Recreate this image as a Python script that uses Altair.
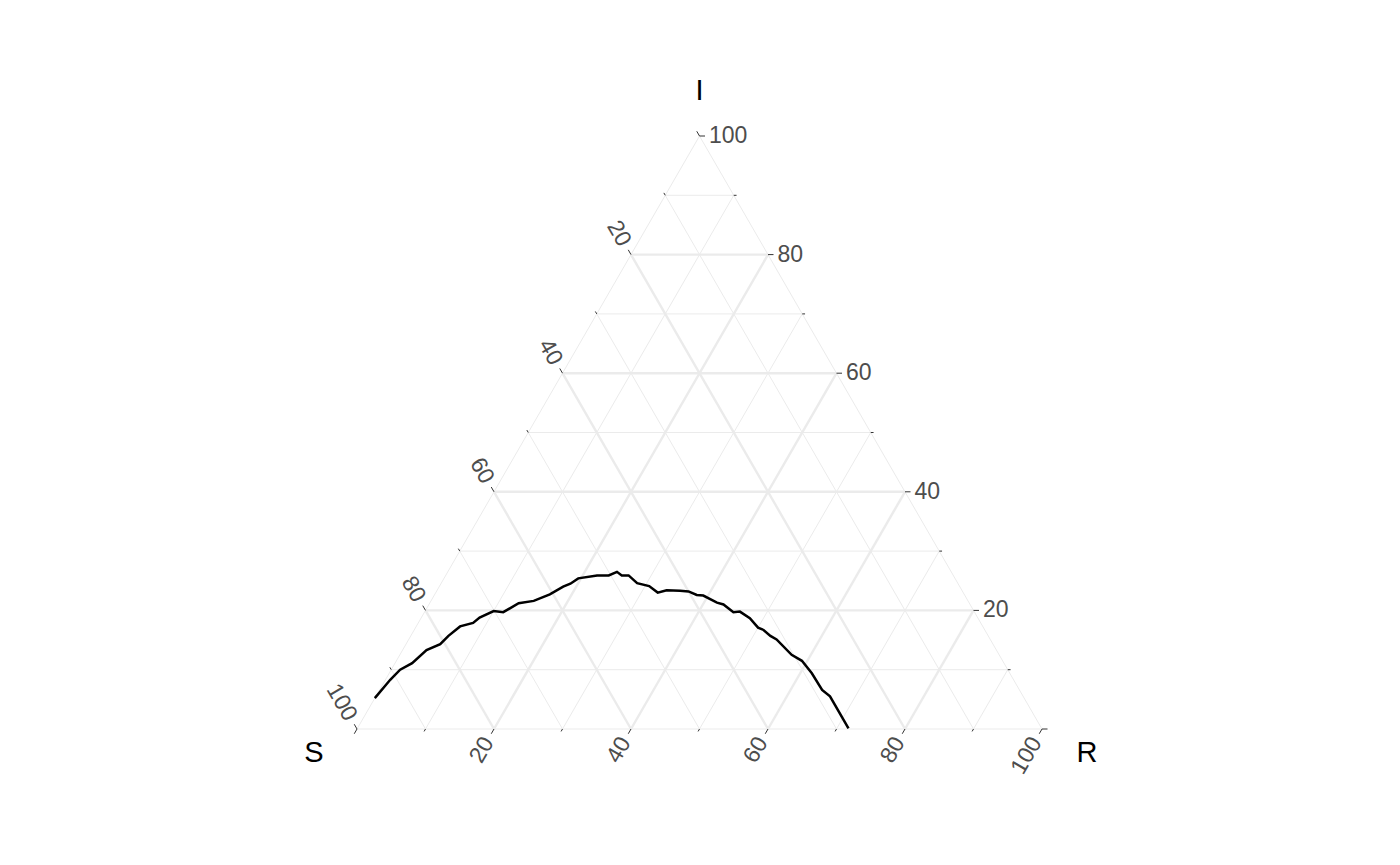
import altair as alt
import numpy as np
import pandas as pd

# ---- data ----
axis_names = ["S", "I", "R"]
grid_values = [0, 10, 20, 30, 40, 50, 60, 70, 80, 90]
major_ticks = [0, 20, 40, 60, 80, 100]
minor_ticks = [10, 30, 50, 70, 90]
label_values = [20, 40, 60, 80, 100]
label_texts = ["20", "40", "60", "80", "100"]

# SIR trajectory (percent of population)
traj_I = [5.2, 8.3, 10.0, 11.1, 13.3, 14.3, 15.7, 17.3, 17.9, 18.8, 19.9, 19.7,
          21.2, 21.6, 22.7, 24.0, 24.5, 25.4, 25.9, 25.9, 26.5, 25.9, 25.9, 24.6,
          24.1, 23.0, 23.4, 23.3, 23.2, 22.6, 22.5, 21.3, 21.0, 19.7, 19.8, 18.7,
          17.1, 16.7, 15.7, 15.1, 12.5, 11.5, 9.4, 6.6, 5.5, 0.1]
traj_R = [0.0, 0.7, 1.3, 2.5, 3.5, 5.0, 5.5, 6.4, 8.0, 8.5, 10.0, 11.5,
          13.0, 15.0, 16.8, 18.1, 18.9, 19.6, 22.1, 23.8, 24.7, 25.7, 26.7, 28.6,
          30.6, 32.4, 33.5, 35.5, 36.8, 38.3, 39.3, 41.9, 43.0, 45.1, 46.0, 48.0,
          50.0, 51.0, 52.5, 53.7, 57.2, 59.2, 61.7, 64.6, 66.3, 71.7]

# ---- geometry helpers ----
H = np.sqrt(3) / 2
W_PX, H_PX = 685, 593
PX = 100 / W_PX  # data units per pixel


def cart(S, I, R):
    return R + I / 2, I * H


# grid lines
grid_rows = []
for v in grid_values:
    kind = "major" if (v % 20 == 0 and v != 0) else "minor"
    segs = [
        ((100 - v, v, 0), (0, v, 100 - v)),      # constant I
        ((100 - v, 0, v), (0, 100 - v, v)),      # constant R
        ((v, 0, 100 - v), (v, 100 - v, 0)),      # constant S
    ]
    for a, b in segs:
        x1, y1 = cart(*a)
        x2, y2 = cart(*b)
        grid_rows.append(dict(x=x1, y=y1, x2=x2, y2=y2, kind=kind))
grid_df = pd.DataFrame(grid_rows)


# axis definitions: start point on edge and outward direction
def start_I(v):
    return cart(0, v, 100 - v)


def start_S(v):
    return cart(v, 100 - v, 0)


def start_R(v):
    return cart(100 - v, 0, v)


dirs = {"I": (1.0, 0.0), "S": (-0.5, H), "R": (-0.5, -H)}
starts = {"I": start_I, "S": start_S, "R": start_R}
MAJ_LEN, MIN_LEN = 5.5 * PX, 2.8 * PX

tick_rows = []
for ax in ["S", "I", "R"]:
    dx, dy = dirs[ax]
    for vals, ln in [(major_ticks, MAJ_LEN), (minor_ticks, MIN_LEN)]:
        for v in vals:
            x0, y0 = starts[ax](v)
            tick_rows.append(dict(x=x0, y=y0, x2=x0 + dx * ln, y2=y0 + dy * ln))
tick_df = pd.DataFrame(tick_rows)

gaps = {"I": 4 * PX, "S": 6 * PX, "R": 6 * PX}
label_dfs = {}
for ax in ["S", "I", "R"]:
    dx, dy = dirs[ax]
    rows = []
    for v, t in zip(label_values, label_texts):
        x0, y0 = starts[ax](v)
        d = MAJ_LEN + gaps[ax]
        rows.append(dict(x=x0 + dx * d, y=y0 + dy * d, label=t))
    label_dfs[ax] = pd.DataFrame(rows)

# axis titles near the vertices
title_pos = {
    "S": (0 - 43 * PX, 0 - 24 * PX),
    "I": (50, 100 * H + 45 * PX),
    "R": (100 + 45 * PX, 0 - 24 * PX),
}
title_df = pd.DataFrame([dict(x=title_pos[n][0], y=title_pos[n][1], name=n) for n in axis_names])

traj_S = [100 - i - r for i, r in zip(traj_I, traj_R)]
traj_df = pd.DataFrame({"S": traj_S, "I": traj_I, "R": traj_R})
traj_df["x"] = traj_df["R"] + traj_df["I"] / 2
traj_df["y"] = traj_df["I"] * H
traj_df["idx"] = range(len(traj_df))

# ---- chart ----
xs = alt.Scale(domain=[0, 100], nice=False, zero=False)
ys = alt.Scale(domain=[0, 100 * H], nice=False, zero=False)
X = lambda f="x": alt.X(f"{f}:Q", scale=xs, axis=None)
Y = lambda f="y": alt.Y(f"{f}:Q", scale=ys, axis=None)

FONT = "Liberation Sans"

grid_minor = alt.Chart(grid_df[grid_df.kind == "minor"]).mark_rule(
    color="#EBEBEB", strokeWidth=1.0
).encode(x=X(), y=Y(), x2="x2:Q", y2="y2:Q")
grid_major = alt.Chart(grid_df[grid_df.kind == "major"]).mark_rule(
    color="#EBEBEB", strokeWidth=2.4
).encode(x=X(), y=Y(), x2="x2:Q", y2="y2:Q")
ticks = alt.Chart(tick_df).mark_rule(color="#333333", strokeWidth=1.0).encode(
    x=X(), y=Y(), x2="x2:Q", y2="y2:Q"
)

lab_I = alt.Chart(label_dfs["I"]).mark_text(
    align="left", baseline="middle", font=FONT, fontSize=23, color="#4D4D4D"
).encode(x=X(), y=Y(), text="label:N")
lab_S = alt.Chart(label_dfs["S"]).mark_text(
    align="right", baseline="middle", angle=60, font=FONT, fontSize=23, color="#4D4D4D"
).encode(x=X(), y=Y(), text="label:N")
lab_R = alt.Chart(label_dfs["R"]).mark_text(
    align="right", baseline="middle", angle=300, font=FONT, fontSize=23, color="#4D4D4D"
).encode(x=X(), y=Y(), text="label:N")

titles = alt.Chart(title_df).mark_text(
    align="center", baseline="middle", font=FONT, fontSize=29, color="#000000"
).encode(x=X(), y=Y(), text="name:N")

line = alt.Chart(traj_df).mark_line(color="#000000", strokeWidth=2.5).encode(
    x=X(), y=Y(), order=alt.Order("idx:Q")
)

chart = alt.layer(
    grid_minor, grid_major, ticks, lab_I, lab_S, lab_R, titles, line
).properties(
    width=W_PX,
    height=H_PX,
    autosize=alt.AutoSizeParams(type="none"),
    padding={"left": 349, "top": 128, "right": 350, "bottom": 128},
).configure_view(stroke=None)

chart.save("out.html", embed_options={"renderer": "svg", "actions": False})
